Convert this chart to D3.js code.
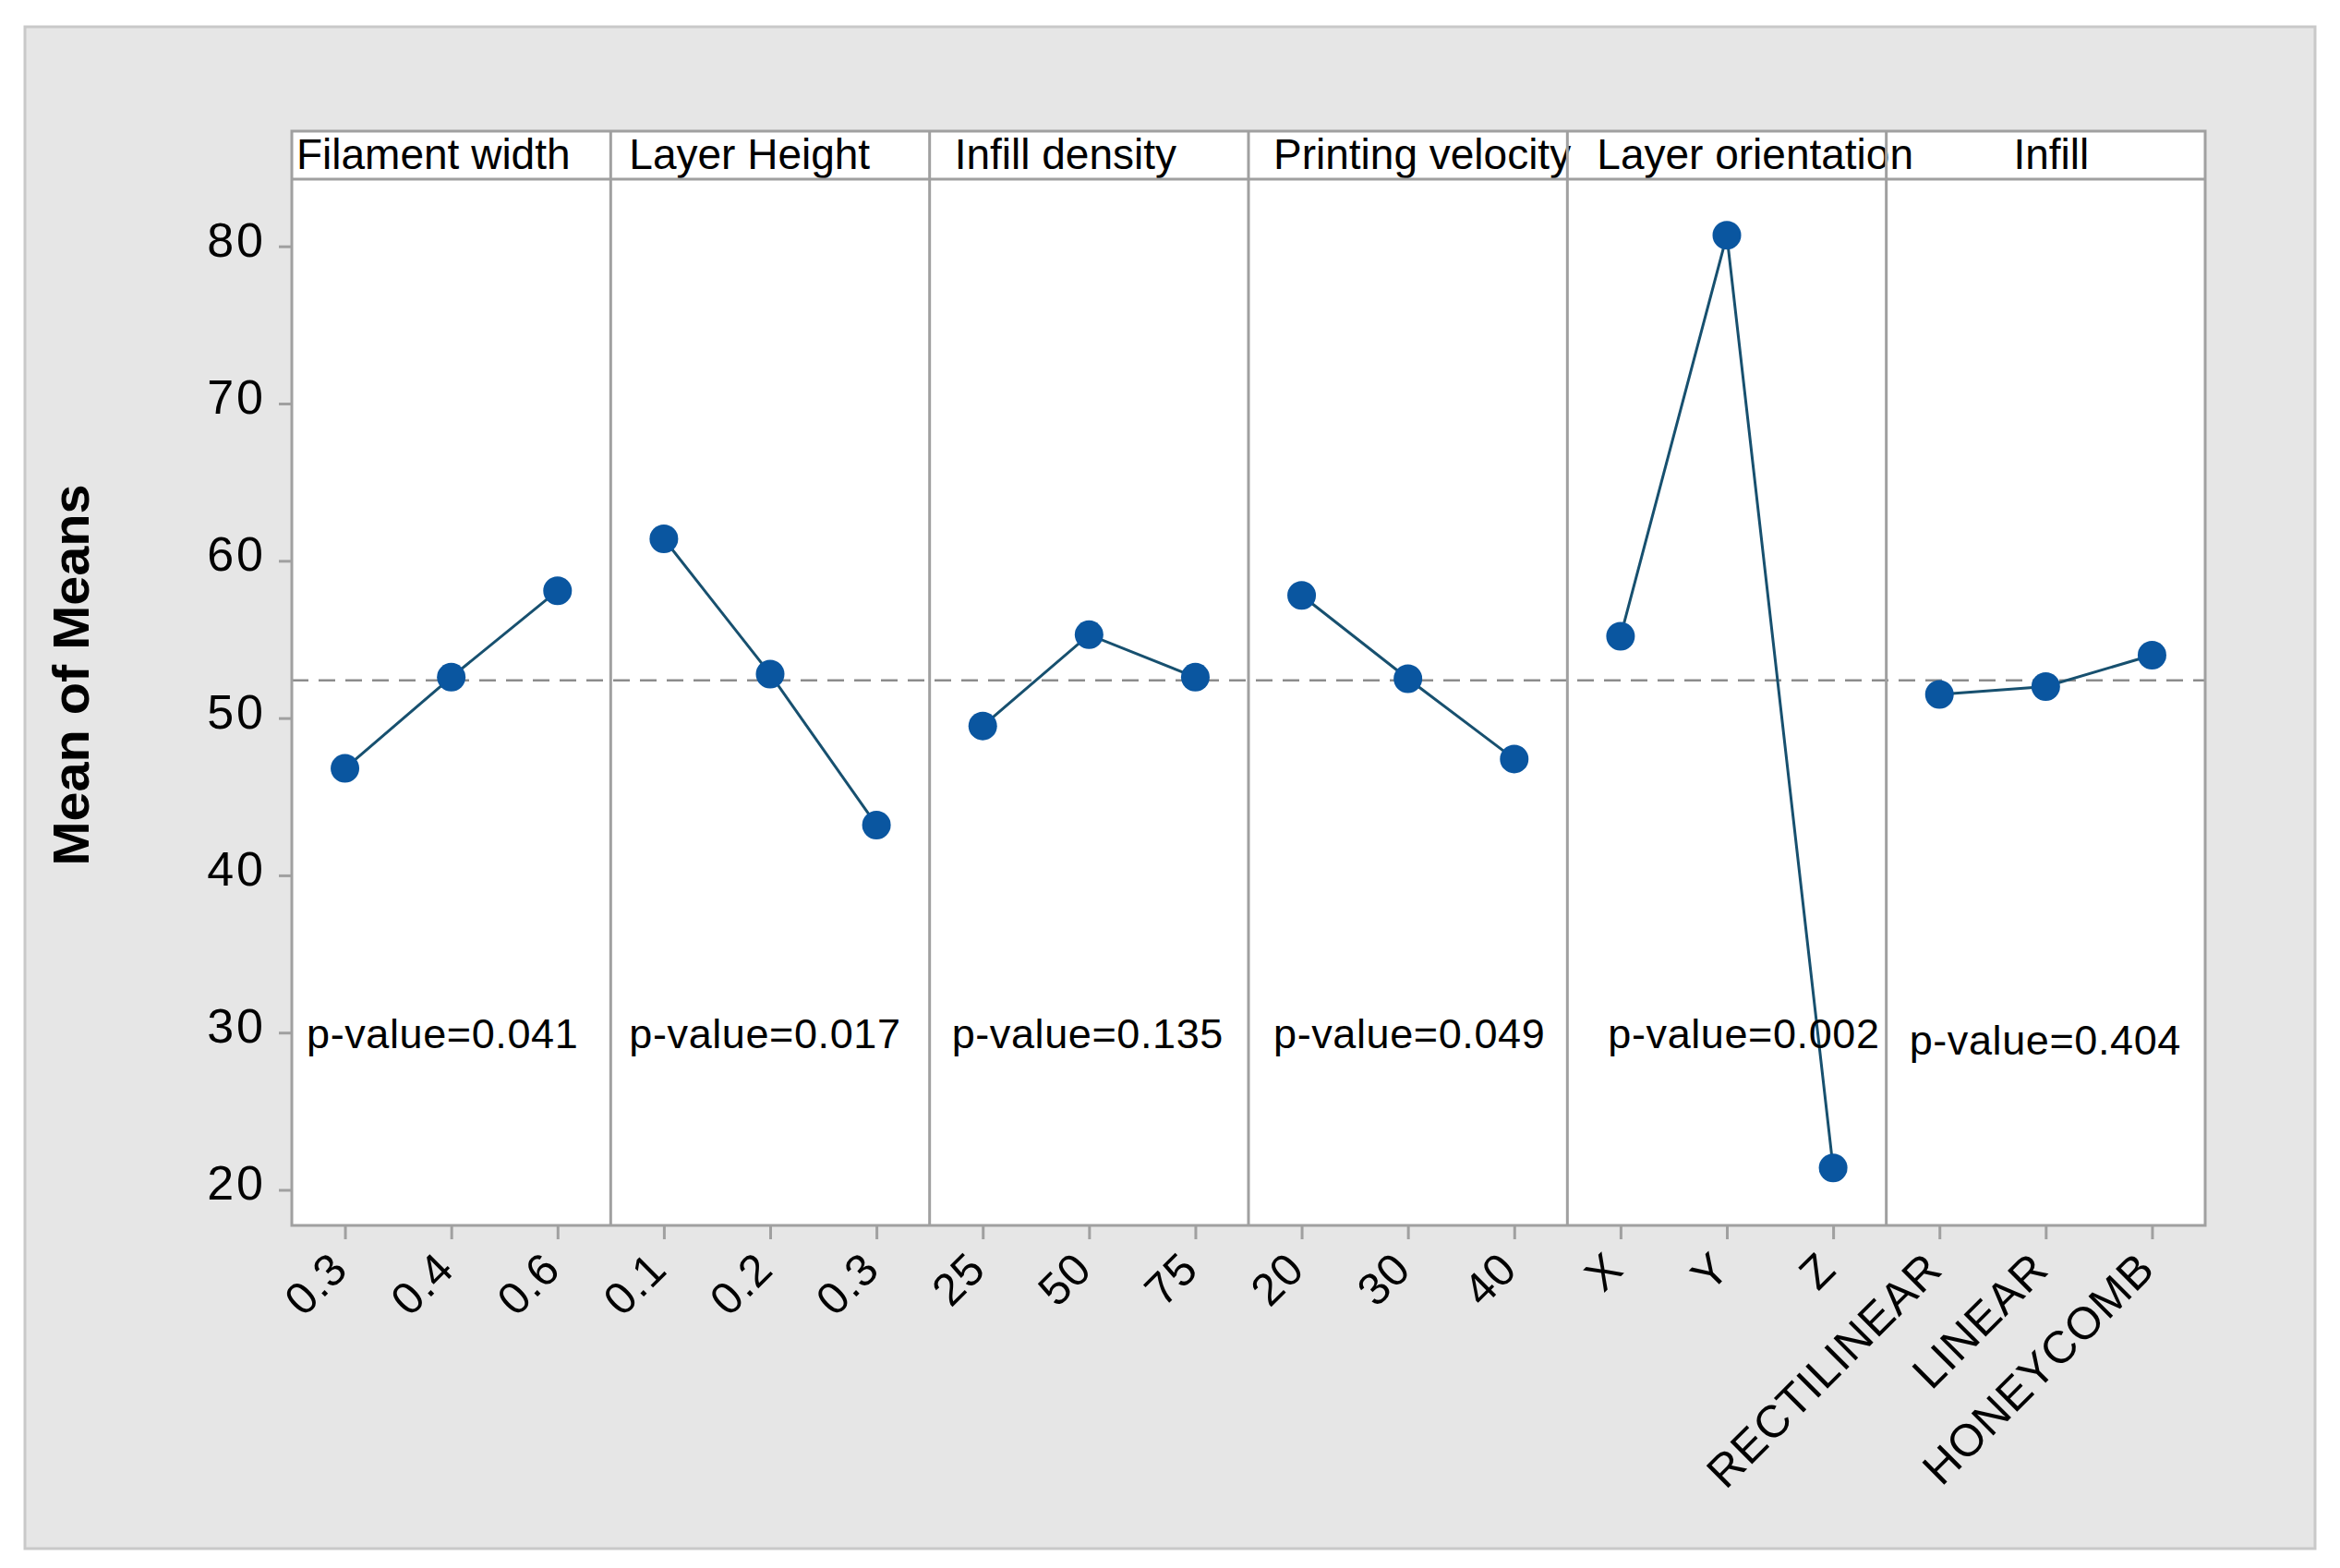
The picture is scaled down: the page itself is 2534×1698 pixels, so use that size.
<!DOCTYPE html>
<html>
<head>
<meta charset="utf-8">
<script src="https://cdn.jsdelivr.net/npm/d3@7/dist/d3.min.js"></script>
<style>
  html, body { margin: 0; padding: 0; background: #ffffff; }
  svg { display: block; }
  text { font-family: "Liberation Sans", Arial, sans-serif; fill: #000; }
</style>
</head>
<body>
<svg id="chart" width="2534" height="1698"></svg>
<script>
// ---------------- DATA ----------------
const factors = ["Filament width", "Layer Height", "Infill density", "Printing velocity", "Layer orientation", "Infill"];
const levels = [
  ["0.3", "0.4", "0.6"],
  ["0.1", "0.2", "0.3"],
  ["25", "50", "75"],
  ["20", "30", "40"],
  ["X", "Y", "Z"],
  ["RECTILINEAR", "LINEAR", "HONEYCOMB"]
];
const means = [
  [46.8, 52.6, 58.1],
  [61.4, 52.8, 43.2],
  [49.5, 55.3, 52.6],
  [57.8, 52.5, 47.4],
  [55.2, 80.7, 21.4],
  [51.5, 52.0, 54.0]
];
const pValues = ["0.041", "0.017", "0.135", "0.049", "0.002", "0.404"];
const grandMean = 52.4;
const yTicks = [20, 30, 40, 50, 60, 70, 80];
const yTitle = "Mean of Means";

// ---------------- LAYOUT / STYLE ----------------
const W = 2534, H = 1698;
const plotL = 316, plotR = 2388, headTop = 142, headBot = 194, plotBot = 1327;
const frameCol = "#a0a0a0";
const headerOffsets = [5, 20, 27, 27, 32, null];   // null = centered
const pOffsets = [16, 20, 24, 27, 44, 25];
const pBaselines = [1135, 1135, 1135, 1135, 1135, 1142];

const svg = d3.select("#chart");

// outer background
svg.append("rect").attr("x", 0).attr("y", 0).attr("width", W).attr("height", H).attr("fill", "#ffffff");
svg.append("rect").attr("x", 27).attr("y", 29).attr("width", 2480).attr("height", 1648)
  .attr("fill", "#e6e6e6").attr("stroke", "#c9c9c9").attr("stroke-width", 3);

// plot area
svg.append("rect").attr("x", plotL).attr("y", headTop).attr("width", plotR - plotL).attr("height", plotBot - headTop)
  .attr("fill", "#ffffff");

const panel = d3.scaleBand().domain(factors).range([plotL, plotR]).padding(0);
const bw = panel.bandwidth();
const y = d3.scaleLinear().domain([17.74, 84.27]).range([plotBot, headBot]);

// grand mean reference line
svg.append("line")
  .attr("x1", plotL).attr("x2", plotR)
  .attr("y1", y(grandMean)).attr("y2", y(grandMean))
  .attr("stroke", "#8c8c8c").attr("stroke-width", 2.5).attr("stroke-dasharray", "18,11");

// panels
factors.forEach((f, i) => {
  const x0 = panel(f);
  const xp = d3.scalePoint().domain(levels[i]).range([0, bw]).padding(0.5);
  const g = svg.append("g").attr("transform", `translate(${x0},0)`);
  const pts = levels[i].map((lv, j) => ({ level: lv, value: means[i][j] }));

  const line = d3.line().x(d => xp(d.level)).y(d => y(d.value));
  g.append("path").datum(pts).attr("d", line)
    .attr("fill", "none").attr("stroke", "#17506f").attr("stroke-width", 3);

  g.selectAll("circle").data(pts).join("circle")
    .attr("cx", d => xp(d.level)).attr("cy", d => y(d.value)).attr("r", 15.5)
    .attr("fill", "#0a56a0");

  // x axis
  const ax = d3.axisBottom(xp).tickSize(15).tickSizeOuter(0);
  const axg = svg.append("g").attr("transform", `translate(${x0},${plotBot})`).call(ax);
  axg.select(".domain").remove();
  axg.selectAll(".tick line").attr("stroke", frameCol).attr("stroke-width", 3);
  axg.selectAll(".tick text")
    .attr("x", 0).attr("y", 0).attr("dy", null)
    .attr("transform", "translate(5,50) rotate(-45)")
    .style("text-anchor", "end")
    .style("font-size", "49px")
    .style("letter-spacing", "1px")
    .style("font-family", "'Liberation Sans', Arial, sans-serif")
    .attr("fill", "#000");

  // header text
  const ht = svg.append("text").text(f)
    .attr("y", 183).style("font-size", "46px");
  if (headerOffsets[i] === null) {
    ht.attr("x", x0 + bw / 2 + 6).attr("text-anchor", "middle");
  } else {
    ht.attr("x", x0 + headerOffsets[i]);
  }

  // p-value
  svg.append("text").text("p-value=" + pValues[i])
    .attr("x", x0 + pOffsets[i]).attr("y", pBaselines[i])
    .style("font-size", "45px").style("letter-spacing", "0.6px");
});

// dividers between panels
factors.slice(1).forEach(f => {
  svg.append("line").attr("x1", panel(f)).attr("x2", panel(f))
    .attr("y1", headTop).attr("y2", plotBot)
    .attr("stroke", frameCol).attr("stroke-width", 3);
});
// header bottom line
svg.append("line").attr("x1", plotL).attr("x2", plotR).attr("y1", headBot).attr("y2", headBot)
  .attr("stroke", frameCol).attr("stroke-width", 3);
// frame
svg.append("rect").attr("x", plotL).attr("y", headTop).attr("width", plotR - plotL).attr("height", plotBot - headTop)
  .attr("fill", "none").attr("stroke", frameCol).attr("stroke-width", 3);

// y axis
const ay = d3.axisLeft(y).tickValues(yTicks).tickSize(14).tickPadding(14).tickFormat(d3.format("d"));
const ayg = svg.append("g").attr("transform", `translate(${plotL},0)`).call(ay);
ayg.select(".domain").remove();
ayg.selectAll(".tick line").attr("stroke", frameCol).attr("stroke-width", 3);
ayg.selectAll(".tick text")
  .attr("dy", "0.2em")
  .style("font-size", "52px")
  .style("letter-spacing", "3px")
  .style("font-family", "'Liberation Sans', Arial, sans-serif")
  .attr("fill", "#000");

// y title
svg.append("text").text(yTitle)
  .attr("transform", "translate(96,731) rotate(-90)")
  .attr("text-anchor", "middle")
  .attr("textLength", 413).attr("lengthAdjust", "spacingAndGlyphs")
  .style("font-size", "56px").style("font-weight", "bold");
</script>
</body>
</html>
